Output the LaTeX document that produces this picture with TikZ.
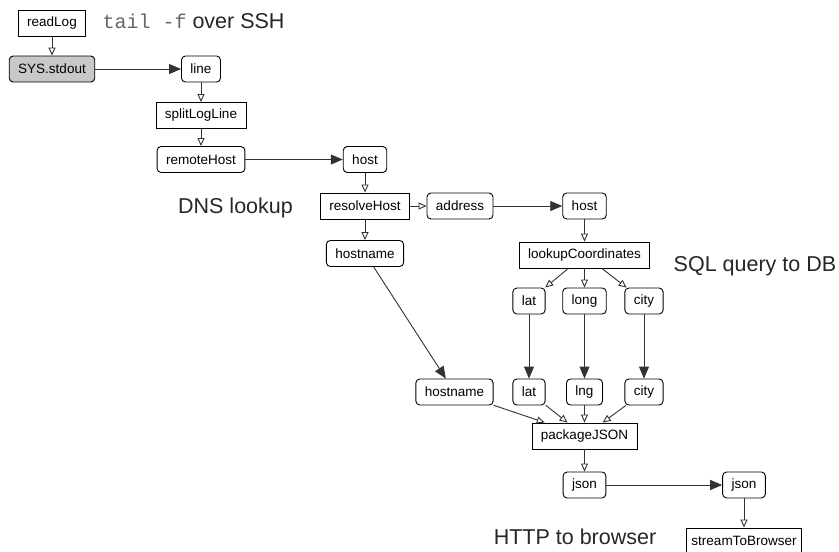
\documentclass[tikz,border=0pt]{standalone}
\usepackage{fontspec}
\setmainfont{Liberation Sans}
\setmonofont{Liberation Mono}
\usetikzlibrary{arrows.meta}
\definecolor{flowline}{HTML}{333333}
\definecolor{sourcefill}{HTML}{C8C8C8}

\begin{document}
\begin{tikzpicture}[x=1pt,y=-1pt,every node/.style={font=\fontsize{13.5}{16}\selectfont},
  op/.style={draw,line width=0.9pt,inner xsep=9pt,minimum height=26pt},
  val/.style={op,rounded corners=4pt},
  note/.style={font=\fontsize{21.5}{26}\selectfont,text=black!85},
  feed/.style={draw=flowline,line width=0.9pt,-{Triangle[open,length=8pt,width=7pt]}},
  push/.style={draw=flowline,line width=0.9pt,-{Triangle[length=12pt,width=10pt]}}]
  \useasboundingbox (0,0) rectangle (839,552);
  \node[op] (readLog) at (52,23) {readLog};
  \node[val,fill=sourcefill] (stdout) at (52,69) {SYS.stdout};
  \node[val] (line) at (201,69) {line};
  \node[op] (split) at (201,115.5) {splitLogLine};
  \node[val] (remote) at (201,159.5) {remoteHost};
  \node[val] (host) at (365,159.5) {host};
  \node[op] (resolve) at (365,206) {resolveHost};
  \node[val] (address) at (460,206) {address};
  \node[val] (ipHost) at (584.5,206) {host};
  \node[op] (lookup) at (584.5,255) {lookupCoordinates};
  \node[val] (name) at (365,253.5) {hostname};
  \node[val] (lat) at (529,301) {lat};
  \node[val] (long) at (584.5,301) {long};
  \node[val] (city) at (644,301) {city};
  \node[val] (nameIn) at (454.5,392) {hostname};
  \node[val] (latIn) at (529,392) {lat};
  \node[val] (lngIn) at (584.5,392) {lng};
  \node[val] (cityIn) at (644,392) {city};
  \node[op] (package) at (584.5,436) {packageJSON};
  \node[val] (json) at (584.5,485) {json};
  \node[val] (jsonOut) at (744,485) {json};
  \node[op,inner xsep=5pt] (stream) at (744,541) {streamToBrowser};
  \node[note,anchor=base west] (sshNote) at (99,28.5) {{\fontsize{20}{24}\selectfont\ttfamily\color{black!60}tail -f} over SSH};
  \node[note,anchor=base] (dnsNote) at (235.5,213) {DNS lookup};
  \node[note,anchor=base] (sqlNote) at (755,271) {SQL query to DB};
  \node[note,anchor=base] (httpNote) at (575,544) {HTTP to browser};
  \draw[feed] (readLog) -- (stdout);
  \draw[push] (stdout) -- (line);
  \draw[feed] (line) -- (split);
  \draw[feed] (split) -- (remote);
  \draw[push] (remote) -- (host);
  \draw[feed] (host) -- (resolve);
  \draw[feed] (resolve) -- (address);
  \draw[push] (address) -- (ipHost);
  \draw[feed] (resolve) -- (name);
  \draw[feed] (ipHost) -- (lookup);
  \foreach \v in {lat,long,city} \draw[feed] (lookup) -- (\v);
  \foreach \a/\b in {name/nameIn,lat/latIn,long/lngIn,city/cityIn} \draw[push] (\a) -- (\b);
  \foreach \v in {nameIn,latIn,lngIn,cityIn} \draw[feed] (\v) -- (package);
  \draw[feed] (package) -- (json);
  \draw[push] (json) -- (jsonOut);
  \draw[feed] (jsonOut) -- (stream);
\end{tikzpicture}
\end{document}
